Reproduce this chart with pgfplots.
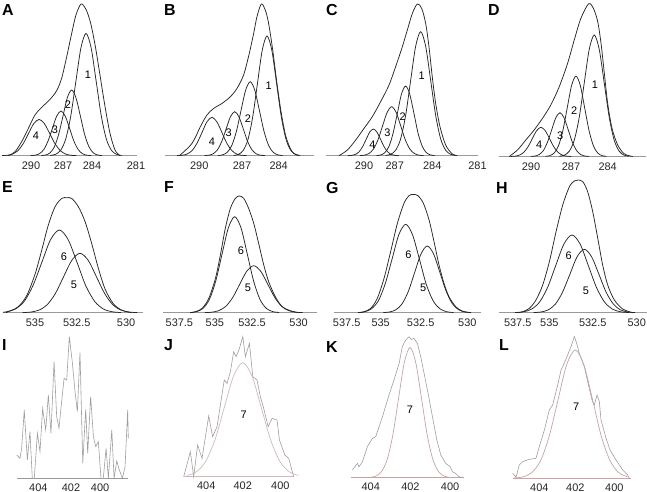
\documentclass[border=0pt]{standalone}
\usepackage{pgfplots}
\pgfplotsset{compat=1.18}
\usepackage{fontspec}
\setmainfont{Liberation Sans}
\definecolor{basegray}{gray}{0.6}
\definecolor{curvecol}{gray}{0.15}
\definecolor{datagray}{gray}{0.62}
\definecolor{fitJ}{RGB}{212,184,184}
\definecolor{fitKL}{RGB}{204,162,162}
\newcommand\tickfont{\fontsize{11}{13}\selectfont}
\newcommand\numfont{\fontsize{11}{13}\selectfont}
\newcommand\letterfont{\fontsize{16}{18}\selectfont\bfseries}
\pgfplotsset{
 panel/.style={scale only axis, clip=false, x dir=reverse, enlargelimits=false,
  axis x line=bottom, axis y line=none,
  x axis line style={-, draw=basegray, line width=0.9bp},
  ymin=0, ymax=160, height=160bp,
  major tick length=0pt, xtick style={draw=none},
  xticklabel style={font=\tickfont, anchor=base, yshift=-14bp, inner sep=0pt, text=black!85},
  anchor=south west},
 lowrow/.style={xticklabel style={yshift=1.3bp}},
 comp/.style={smooth, no markers, line width=0.75bp, draw=curvecol},
 data/.style={sharp plot, no markers, line width=0.6bp, draw=datagray},
}
\begin{document}
\begin{tikzpicture}
\useasboundingbox (0,0) rectangle (647bp,-492bp);
% ---------------- A
\begin{axis}[panel, at={(2bp,-155.7bp)}, width=135bp, xmin=279.58, xmax=292.85,
  xtick={290,286.85,284,279.68}, xticklabels={290,287,284,281}]
\addplot[comp] coordinates {(292.23,0) (291.57,4) (290.92,14) (290.26,27.3) (289.61,40.7) (288.95,48.3) (288.13,56.3) (287.48,65) (286.99,77.3) (286.49,99) (286.0,122.3) (285.58,140.7) (285.08,151.7) (284.59,146.3) (284.13,132.3) (283.67,109) (283.22,80.7) (282.72,49) (282.23,22.3) (281.74,5.7) (281.25,0)};
\addplot[comp] coordinates {(281.09,0.27) (281.59,1.36) (282.09,5.37) (282.59,16.55) (283.09,39.71) (283.59,74.18) (284.09,107.93) (284.59,122.3) (285.09,107.93) (285.59,74.18) (286.09,39.71) (286.59,16.55) (287.09,5.37) (287.59,1.36) (288.09,0.27)};
\addplot[comp] coordinates {(283.03,0.14) (283.45,0.73) (283.88,2.88) (284.3,8.89) (284.73,21.33) (285.15,39.85) (285.58,57.98) (286.0,65.7) (286.43,57.98) (286.85,39.85) (287.28,21.33) (287.7,8.89) (288.13,2.88) (288.55,0.73) (288.98,0.14)};
\addplot[comp] coordinates {(284.08,0.10) (284.5,0.50) (284.93,1.96) (285.35,6.05) (285.78,14.51) (286.2,27.11) (286.63,39.45) (287.05,44.7) (287.48,39.45) (287.9,27.11) (288.33,14.51) (288.75,6.05) (289.18,1.96) (289.6,0.50) (290.03,0.10)};
\addplot[comp] coordinates {(285.53,0.08) (286.05,0.40) (286.58,1.59) (287.1,4.91) (287.63,11.79) (288.15,22.02) (288.68,32.03) (289.2,36.3) (289.73,32.03) (290.25,22.02) (290.78,11.79) (291.3,4.91) (291.83,1.59) (292.35,0.40) (292.85,0.08)};
\node[font=\numfont] at (axis cs:284.40,80.7) {1};
\node[font=\numfont] at (axis cs:286.36,50.7) {2};
\node[font=\numfont] at (axis cs:287.64,25.7) {3};
\node[font=\numfont] at (axis cs:289.51,19.7) {4};
\end{axis}
% ---------------- B
\begin{axis}[panel, at={(165bp,-155.7bp)}, width=149bp, xmin=281.33, xmax=292.59,
  xtick={290,286.77,284}, xticklabels={290,287,284}]
\addplot[comp] coordinates {(291.5,0) (290.55,12.3) (289.92,29) (289.42,40.7) (288.91,47.3) (288.28,52.3) (287.65,59) (287.15,67.3) (286.65,80.7) (286.22,102.3) (285.89,122.3) (285.64,139) (285.31,151.7) (285.01,145.7) (284.76,132.3) (284.45,105.7) (284.13,72.3) (283.80,42.3) (283.45,19) (282.99,4) (282.49,0)};
\addplot[comp] coordinates {(282.36,0.26) (282.72,1.33) (283.08,5.25) (283.44,16.2) (283.8,38.87) (284.16,72.6) (284.52,105.6) (284.88,119.7) (285.24,105.6) (285.6,72.6) (285.96,38.87) (286.32,16.2) (286.68,5.25) (287.04,1.33) (287.4,0.26)};
\addplot[comp] coordinates {(283.7,0.16) (284.05,0.82) (284.4,3.25) (284.75,10.01) (285.1,24.03) (285.45,44.88) (285.8,65.3) (286.15,74) (286.5,65.3) (286.85,44.88) (287.2,24.03) (287.55,10.01) (287.9,3.25) (288.25,0.82) (288.6,0.16)};
\addplot[comp] coordinates {(285.05,0.10) (285.37,0.49) (285.7,1.93) (286.02,5.95) (286.35,14.29) (286.67,26.69) (287.0,38.83) (287.32,44) (287.65,38.83) (287.97,26.69) (288.3,14.29) (288.62,5.95) (288.95,1.93) (289.27,0.49) (289.6,0.10)};
\addplot[comp] coordinates {(286.42,0.08) (286.79,0.43) (287.17,1.69) (287.54,5.2) (287.92,12.47) (288.29,23.29) (288.67,33.89) (289.04,38.4) (289.42,33.89) (289.79,23.29) (290.17,12.47) (290.54,5.2) (290.92,1.69) (291.29,0.43) (291.67,0.08)};
\node[font=\numfont] at (axis cs:284.75,69.7) {1};
\node[font=\numfont] at (axis cs:286.32,37.4) {2};
\node[font=\numfont] at (axis cs:287.78,23) {3};
\node[font=\numfont] at (axis cs:289.04,14) {4};
\end{axis}
% ---------------- C
\begin{axis}[panel, at={(326bp,-155.7bp)}, width=152bp, xmin=279.98, xmax=293.34,
  xtick={290,287.30,284,280.02}, xticklabels={290,287,284,281}]
\addplot[comp] coordinates {(292.20,0) (291.46,5.7) (290.73,15.7) (290.0,27.3) (289.27,39) (288.54,54) (287.80,70.7) (287.22,89) (286.63,109) (286.19,125.7) (285.75,142.3) (285.31,151.7) (284.93,147.3) (284.58,132.3) (284.29,109) (284.0,79) (283.70,52.3) (283.32,29) (282.82,10.7) (282.24,1.7) (281.80,0)};
\addplot[comp] coordinates {(281.94,0.27) (282.38,1.38) (282.82,5.44) (283.26,16.78) (283.7,40.26) (284.14,75.21) (284.58,109.43) (285.02,124) (285.46,109.43) (285.9,75.21) (286.34,40.26) (286.78,16.78) (287.22,5.44) (287.66,1.38) (288.1,0.27)};
\addplot[comp] coordinates {(283.79,0.15) (284.15,0.77) (284.52,3.06) (284.88,9.43) (285.25,22.63) (285.61,42.27) (285.98,61.51) (286.34,69.7) (286.71,61.51) (287.07,42.27) (287.44,22.63) (287.8,9.43) (288.17,3.06) (288.53,0.77) (288.9,0.15)};
\addplot[comp] coordinates {(284.77,0.11) (285.17,0.54) (285.57,2.15) (285.97,6.63) (286.37,15.91) (286.77,29.72) (287.17,43.24) (287.57,49) (287.97,43.24) (288.37,29.72) (288.77,15.91) (289.17,6.63) (289.57,2.15) (289.97,0.54) (290.37,0.11)};
\addplot[comp] coordinates {(286.94,0.06) (287.26,0.30) (287.58,1.17) (287.9,3.61) (288.22,8.67) (288.54,16.19) (288.86,23.56) (289.18,26.7) (289.5,23.56) (289.82,16.19) (290.14,8.67) (290.46,3.61) (290.78,1.17) (291.1,0.30) (291.42,0.06)};
\node[font=\numfont] at (axis cs:284.93,79.7) {1};
\node[font=\numfont] at (axis cs:286.60,39) {2};
\node[font=\numfont] at (axis cs:287.95,23) {3};
\node[font=\numfont] at (axis cs:289.27,10.7) {4};
\end{axis}
% ---------------- D
\begin{axis}[panel, at={(499bp,-156.5bp)}, width=147bp, xmin=281.0, xmax=292.5,
  xtick={290,286.87,284}, xticklabels={290,287,284}]
\addplot[comp] coordinates {(291.70,0) (291.04,6.7) (290.39,16.7) (289.74,26.7) (289.09,38.3) (288.44,51.7) (287.78,70) (287.13,93.3) (286.61,116.7) (286.09,138.3) (285.49,152.7) (285.12,148.3) (284.78,135) (284.52,113.3) (284.26,83.3) (284.0,53.3) (283.66,28.3) (283.22,11.7) (282.70,2.7) (282.04,0)};
\addplot[comp] coordinates {(282.32,0.27) (282.71,1.35) (283.1,5.33) (283.49,16.44) (283.88,39.45) (284.27,73.69) (284.66,107.22) (285.05,121.5) (285.44,107.22) (285.83,73.69) (286.22,39.45) (286.61,16.44) (287.0,5.33) (287.39,1.35) (287.78,0.27)};
\addplot[comp] coordinates {(284.1,0.18) (284.44,0.89) (284.78,3.53) (285.12,10.89) (285.46,26.14) (285.8,48.82) (286.14,71.04) (286.48,80.5) (286.82,71.04) (287.16,48.82) (287.5,26.14) (287.84,10.89) (288.18,3.53) (288.52,0.89) (288.86,0.18)};
\addplot[comp] coordinates {(285.46,0.10) (285.78,0.49) (286.1,1.92) (286.43,5.93) (286.76,14.22) (287.08,26.56) (287.41,38.65) (287.73,43.8) (288.06,38.65) (288.38,26.56) (288.71,14.22) (289.03,5.93) (289.36,1.92) (289.68,0.49) (290.01,0.10)};
\addplot[comp] coordinates {(286.84,0.06) (287.18,0.32) (287.52,1.28) (287.86,3.95) (288.2,9.48) (288.54,17.71) (288.88,25.77) (289.22,29.2) (289.56,25.77) (289.9,17.71) (290.24,9.48) (290.58,3.95) (290.92,1.28) (291.26,0.32) (291.6,0.06)};
\node[font=\numfont] at (axis cs:284.99,71.5) {1};
\node[font=\numfont] at (axis cs:286.61,45.5) {2};
\node[font=\numfont] at (axis cs:287.71,20.8) {3};
\node[font=\numfont] at (axis cs:289.35,12.2) {4};
\end{axis}
% ---------------- E
\begin{axis}[panel, at={(3bp,-312.7bp)}, width=140bp, xmin=529.07, xmax=536.76,
  xtick={535,532.71,530}, xticklabels={535,532.5,530}]
\addplot[comp] coordinates {(536.6,0) (536.28,2.5) (535.92,6) (535.46,17) (535.0,38.5) (534.63,62.7) (534.27,87.7) (533.90,106) (533.53,114.3) (533.26,115) (532.99,114.3) (532.62,106) (532.25,91) (531.89,69.3) (531.52,44.3) (531.15,23.5) (530.70,9) (530.24,2.6) (529.69,0)};
\addplot[comp] coordinates {(530.27,0.18) (530.75,0.92) (531.24,3.63) (531.72,11.19) (532.21,26.85) (532.69,50.16) (533.18,72.98) (533.66,82.7) (534.15,72.98) (534.63,50.16) (535.12,26.85) (535.6,11.19) (536.09,3.63) (536.57,0.92) (536.76,0.5)};
\addplot[comp] coordinates {(529.38,0.13) (529.83,0.66) (530.28,2.61) (530.73,8.04) (531.18,19.29) (531.63,36.03) (532.08,52.42) (532.53,59.4) (532.98,52.42) (533.43,36.03) (533.88,19.29) (534.33,8.04) (534.78,2.61) (535.23,0.66) (535.68,0.13)};
\node[font=\numfont] at (axis cs:533.41,56) {6};
\node[font=\numfont] at (axis cs:532.86,27.7) {5};
\end{axis}
% ---------------- F
\begin{axis}[panel, at={(163bp,-312.7bp)}, width=154bp, xmin=528.84, xmax=538.53,
  xtick={537.5,535.27,532.93,530}, xticklabels={537.5,535,532.5,530}]
\addplot[comp] coordinates {(536.8,0) (536.49,1) (536.07,4.3) (535.65,14.3) (535.23,34.3) (534.92,57.7) (534.61,84.3) (534.29,104.3) (533.98,114.3) (533.72,116.7) (533.45,114.3) (533.14,104.3) (532.82,89.3) (532.51,69.3) (532.19,47.7) (531.88,31) (531.46,16) (531.04,6.2) (530.52,2) (529.99,0)};
\addplot[comp] coordinates {(531.22,0.21) (531.62,1.07) (532.02,4.21) (532.42,12.99) (532.82,31.17) (533.22,58.22) (533.62,84.72) (534.02,96) (534.42,84.72) (534.82,58.22) (535.22,31.17) (535.62,12.99) (536.02,4.21) (536.42,1.07) (536.82,0.21)};
\addplot[comp] coordinates {(529.74,0.10) (530.18,0.52) (530.62,2.06) (531.06,6.36) (531.5,15.26) (531.94,28.51) (532.38,41.48) (532.82,47) (533.26,41.48) (533.7,28.51) (534.14,15.26) (534.58,6.36) (535.02,2.06) (535.46,0.52) (535.9,0.10)};
\node[font=\numfont] at (axis cs:533.62,61.7) {6};
\node[font=\numfont] at (axis cs:533.18,25.4) {5};
\end{axis}
% ---------------- G
\begin{axis}[panel, at={(334bp,-312.7bp)}, width=147bp, xmin=529.15, xmax=538.29,
  xtick={537.5,535.39,532.90,530}, xticklabels={537.5,535,532.5,530}]
\addplot[comp] coordinates {(536.7,0) (536.42,1) (536.01,4.3) (535.60,14.3) (535.18,34.3) (534.77,61) (534.35,89.3) (533.94,109.3) (533.63,117) (533.36,118.3) (533.07,117) (532.73,109.3) (532.38,92.7) (532.07,71) (531.76,47.7) (531.45,29.3) (531.14,16) (530.72,6) (530.31,1.6) (529.79,0)};
\addplot[comp] coordinates {(530.86,0.19) (531.28,0.98) (531.7,3.88) (532.13,11.96) (532.56,28.70) (532.98,53.61) (533.41,78.01) (533.83,88.4) (534.26,78.01) (534.68,53.61) (535.11,28.70) (535.53,11.96) (535.96,3.88) (536.38,0.98) (536.81,0.19)};
\addplot[comp] coordinates {(529.76,0.15) (530.15,0.74) (530.54,2.93) (530.93,9.02) (531.32,21.66) (531.71,40.45) (532.1,58.86) (532.49,66.7) (532.88,58.86) (533.27,40.45) (533.66,21.66) (534.05,9.02) (534.44,2.93) (534.83,0.74) (535.22,0.15)};
\node[font=\numfont] at (axis cs:533.67,58.4) {6};
\node[font=\numfont] at (axis cs:532.75,25) {5};
\end{axis}
% ---------------- H
\begin{axis}[panel, at={(499bp,-312.7bp)}, width=148bp, xmin=529.57, xmax=538.65,
  xtick={537.5,535.56,532.90,530.2}, xticklabels={537.5,535,532.5,530}]
\addplot[comp] coordinates {(537.5,0) (537.2,1) (536.79,4.3) (536.38,12.7) (535.97,27.7) (535.56,51) (535.15,81) (534.74,107.7) (534.33,126) (534.03,131.7) (533.80,132.7) (533.51,131) (533.21,121) (532.90,101) (532.59,74.3) (532.29,47.7) (531.98,27.7) (531.57,12.7) (531.06,3.7) (530.45,0)};
\addplot[comp] coordinates {(530.67,0.17) (531.17,0.86) (531.67,3.41) (532.17,10.51) (532.67,25.23) (533.17,47.13) (533.67,68.57) (534.17,77.7) (534.67,68.57) (535.17,47.13) (535.67,25.23) (536.17,10.51) (536.67,3.41) (537.17,0.86) (537.67,0.17)};
\addplot[comp] coordinates {(530.3,0.14) (530.74,0.70) (531.19,2.78) (531.63,8.58) (532.08,20.59) (532.52,38.45) (532.97,55.95) (533.41,63.4) (533.86,55.95) (534.3,38.45) (534.75,20.59) (535.19,8.58) (535.64,2.78) (536.08,0.70) (536.53,0.14)};
\node[font=\numfont] at (axis cs:534.37,57) {6};
\node[font=\numfont] at (axis cs:533.31,21.7) {5};
\end{axis}
% ---------------- I
\begin{axis}[panel, lowrow, at={(16.7bp,-478.3bp)}, width=111.6bp, xmin=398.17, xmax=405.40,
  xtick={404,401.88,400}, xticklabels={404,402,400}]
\addplot[data] coordinates {(405.40,23.3) (405.19,20) (405.08,30) (404.91,68.3) (404.71,18.3) (404.54,46.7) (404.39,0) (404.26,0) (404.06,45) (403.89,26.7) (403.72,70) (403.52,48.3) (403.35,83.3) (403.18,45) (402.98,116.7) (402.81,61.7) (402.66,50) (402.49,76.7) (402.33,100) (402.16,98.3) (401.99,141.7) (401.79,115) (401.62,86.7) (401.47,66.7) (401.30,125.7) (401.12,15) (400.93,69) (400.80,25) (400.61,81.7) (400.43,41.7) (400.28,31.7) (400.11,36.7) (399.94,0) (399.79,0) (399.61,30) (399.46,0) (399.24,48.3) (399.09,0) (398.92,17.3) (398.75,8.3) (398.55,0) (398.38,11.7) (398.21,68.3) (398.17,40)};
\end{axis}
% ---------------- J
\begin{axis}[panel, lowrow, at={(183.7bp,-476.7bp)}, width=110bp, xmin=399.28, xmax=405.22,
  x axis line style={-, draw=fitJ, line width=0.9bp},
  xtick={404,402.03,400}, xticklabels={404,402,400}]
\addplot[data] coordinates {(405.22,0) (404.86,25) (404.68,0) (404.47,31.7) (404.23,18.3) (403.87,60.7) (403.66,40) (403.42,50) (403.03,96.7) (402.88,93.3) (402.70,105) (402.52,125) (402.39,120) (402.21,128.3) (402.03,140) (401.89,120) (401.67,133.3) (401.49,100) (401.26,96.7) (401.08,80) (400.90,68.3) (400.66,50) (400.45,58.3) (400.18,56.7) (400.05,36.7) (399.76,21.7) (399.55,18.3) (399.28,0)};
\addplot[smooth, no markers, line width=0.7bp, draw=fitJ] coordinates {(399.03,1.27) (399.53,5.0) (400.03,15.42) (400.53,37.02) (401.03,69.14) (401.53,100.6) (402.03,114) (402.53,100.6) (403.03,69.14) (403.53,37.02) (404.03,15.42) (404.53,5.0) (405.03,1.27)};
\node[font=\numfont] at (axis cs:401.98,61.7) {7};
\end{axis}
% ---------------- K
\begin{axis}[panel, lowrow, at={(350.7bp,-477.7bp)}, width=113.3bp, xmin=399.30, xmax=405.01,
  x axis line style={-, draw=fitKL, line width=0.9bp},
  xtick={404,402,400}, xticklabels={404,402,400}]
\addplot[data] coordinates {(404.93,7.7) (404.67,14.3) (404.59,11) (404.42,16) (404.17,31) (403.92,39.3) (403.75,41) (403.41,61) (403.08,82.7) (402.83,97.7) (402.57,114.3) (402.41,131) (402.24,137.7) (402.07,141) (401.95,138.3) (401.82,139.3) (401.65,134.3) (401.48,121) (401.31,104.3) (401.11,84.3) (400.89,61) (400.67,37.7) (400.47,22.7) (400.22,14.3) (400.0,11) (399.88,6) (399.72,4.3) (399.55,1) (399.38,0)};
\addplot[smooth, no markers, line width=0.7bp, draw=fitKL] coordinates {(399.99,0.29) (400.28,1.45) (400.57,5.72) (400.86,17.63) (401.15,42.31) (401.44,79.03) (401.73,114.99) (402.02,130.3) (402.31,114.99) (402.6,79.03) (402.89,42.31) (403.18,17.63) (403.47,5.72) (403.76,1.45) (404.05,0.29)};
\node[font=\numfont] at (axis cs:402.02,67.7) {7};
\end{axis}
% ---------------- L
\begin{axis}[panel, lowrow, at={(512.7bp,-478.3bp)}, width=118.3bp, xmin=399.11, xmax=405.42,
  x axis line style={-, draw=fitKL, line width=0.9bp},
  xtick={404,402.08,400}, xticklabels={404,402,400}]
\addplot[data] coordinates {(405.42,5) (405.24,1) (405.07,13.3) (404.89,16.7) (404.53,19) (404.18,20) (404.0,31.7) (403.73,48.3) (403.47,68.3) (403.29,73.3) (403.02,93.3) (402.84,108.3) (402.67,115) (402.49,123.3) (402.31,131.7) (402.13,141.7) (402.01,135) (401.87,125) (401.60,111.7) (401.42,96.7) (401.19,78.3) (401.07,73.3) (400.92,83.3) (400.80,76.7) (400.71,58.3) (400.44,40) (400.23,28.3) (399.91,18.3) (399.55,8.3) (399.29,3.3) (399.20,0)};
\addplot[smooth, no markers, line width=0.7bp, draw=fitKL] coordinates {(399.29,1.42) (399.76,5.63) (400.22,17.36) (400.69,41.66) (401.15,77.81) (401.62,113.22) (402.08,128.3) (402.55,113.22) (403.01,77.81) (403.48,41.66) (403.94,17.36) (404.41,5.63) (404.87,1.42) (405.34,0.28)};
\node[font=\numfont] at (axis cs:402.04,71.6) {7};
\end{axis}
% ---------------- panel letters
\node[anchor=base west, inner sep=0pt, font=\letterfont] at (2bp,-15bp) {A};
\node[anchor=base west, inner sep=0pt, font=\letterfont] at (164bp,-15bp) {B};
\node[anchor=base west, inner sep=0pt, font=\letterfont] at (326bp,-15bp) {C};
\node[anchor=base west, inner sep=0pt, font=\letterfont] at (488bp,-15bp) {D};
\node[anchor=base west, inner sep=0pt, font=\letterfont] at (2bp,-192bp) {E};
\node[anchor=base west, inner sep=0pt, font=\letterfont] at (164bp,-192bp) {F};
\node[anchor=base west, inner sep=0pt, font=\letterfont] at (326bp,-193bp) {G};
\node[anchor=base west, inner sep=0pt, font=\letterfont] at (496bp,-193bp) {H};
\node[anchor=base west, inner sep=0pt, font=\letterfont] at (2bp,-350bp) {I};
\node[anchor=base west, inner sep=0pt, font=\letterfont] at (164bp,-350bp) {J};
\node[anchor=base west, inner sep=0pt, font=\letterfont] at (326bp,-352bp) {K};
\node[anchor=base west, inner sep=0pt, font=\letterfont] at (499bp,-350bp) {L};
\end{tikzpicture}
\end{document}
